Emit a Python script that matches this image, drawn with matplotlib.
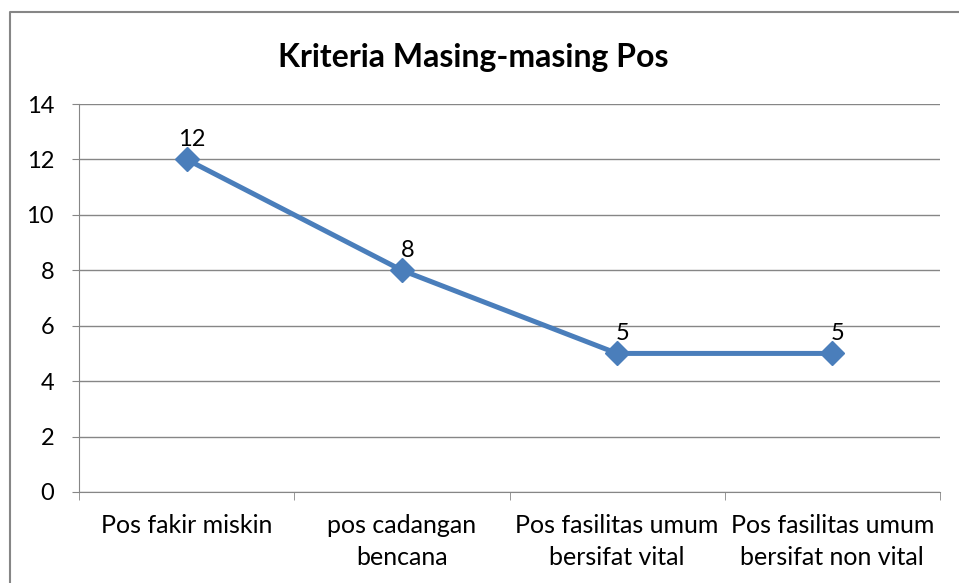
import matplotlib.pyplot as plt
import numpy as np

plt.rcParams['font.family'] = ['Lato', 'DejaVu Sans']

categories = ['Pos fakir miskin', 'pos cadangan\nbencana',
              'Pos fasilitas umum\nbersifat vital', 'Pos fasilitas umum\nbersifat non vital']
values = [12, 8, 5, 5]

fig = plt.figure(figsize=(9.59, 5.83), dpi=100)
ax = fig.add_axes([79 / 959, 1 - 492 / 583, 861 / 959, 388 / 583])

# chart border: only the left and top edges show in the crop
fig.add_artist(plt.Line2D([9.5 / 959, 9.5 / 959, 1], [0, 1 - 12 / 583, 1 - 12 / 583],
                          transform=fig.transFigure, color='#868686', linewidth=1.5))

x = np.arange(len(categories))
ax.plot(x, values, color='#4A7EBB', linewidth=3.6, marker='D',
        markersize=12, markerfacecolor='#4A7EBB', markeredgecolor='#4A7EBB', zorder=3)

for xi, v in zip(x, values):
    ax.annotate(str(v), (xi, v), xytext=(4, 7), textcoords='offset points',
                ha='center', va='bottom', fontsize=17)

ax.set_xlim(-0.5, len(categories) - 0.5)
ax.set_ylim(0, 14)
ax.set_yticks(range(0, 15, 2))
ax.yaxis.grid(True, color='#868686', linewidth=1)
ax.set_axisbelow(True)

ax.set_xticks(x)
ax.set_xticklabels(categories, fontsize=18, linespacing=1.45)
ax.set_xticks(np.arange(-0.5, len(categories)), minor=True)
ax.tick_params(axis='x', which='major', length=0, pad=16)
ax.tick_params(axis='x', which='minor', length=6, color='#868686')
ax.tick_params(axis='y', length=5, color='#868686', labelsize=17, pad=13)

for side in ['top', 'right']:
    ax.spines[side].set_visible(False)
for side in ['left', 'bottom']:
    ax.spines[side].set_color('#868686')

fig.text(473 / 959, 1 - 57 / 583, 'Kriteria Masing-masing Pos', ha='center', va='center',
         fontsize=23, fontweight='bold')

fig.savefig('out.png', dpi=100)
